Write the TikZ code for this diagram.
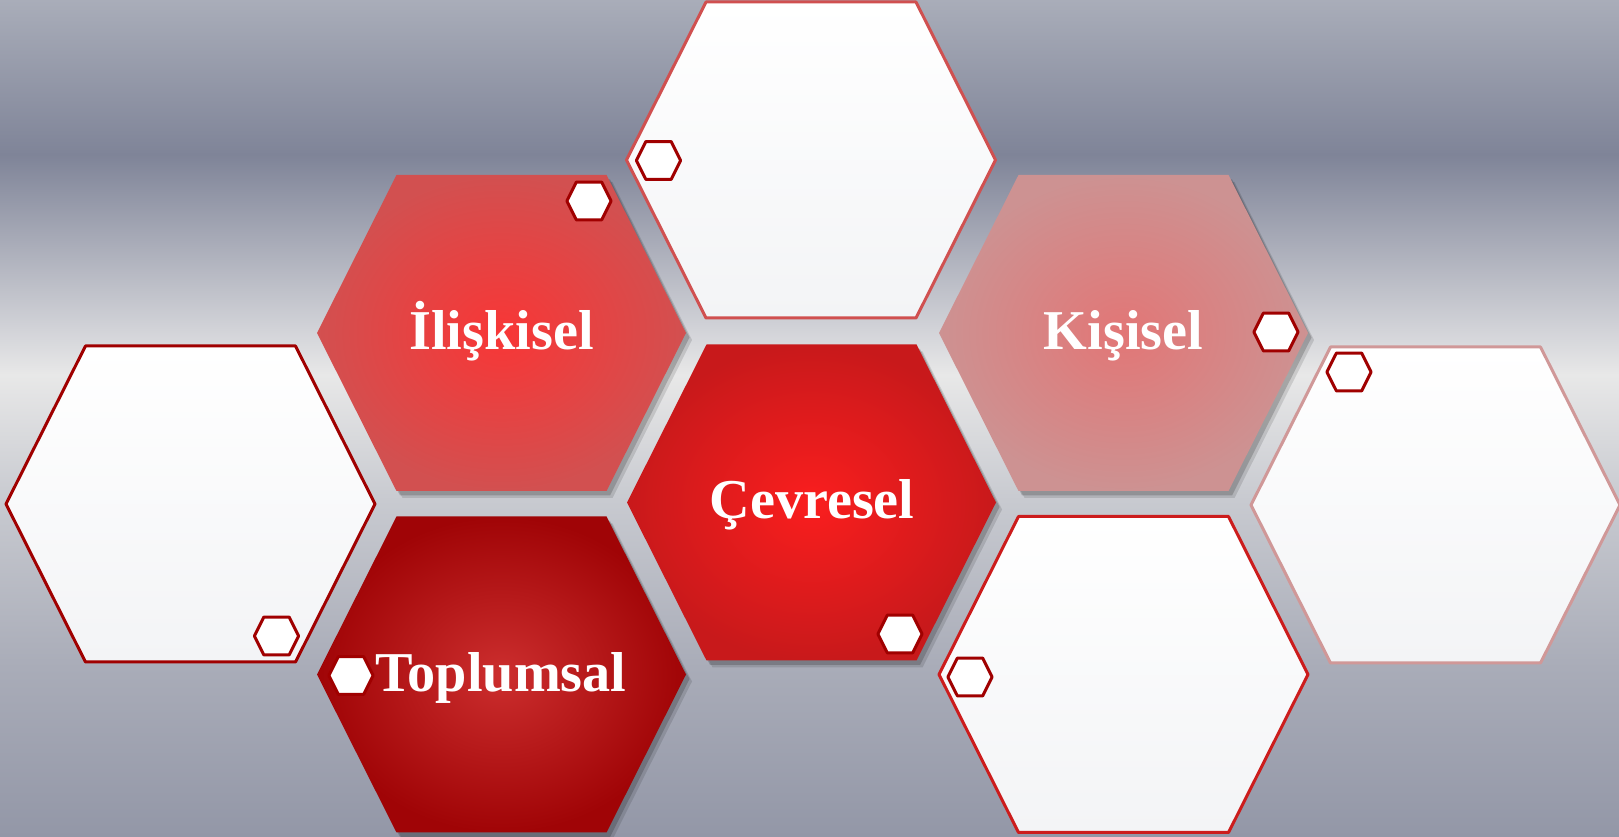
\documentclass[tikz,border=0pt]{standalone}
\usepackage{fontspec}
\setmainfont{Liberation Serif}
\usetikzlibrary{shadows}
\definecolor{bgtop}{HTML}{A9ADB9}
\definecolor{bgdark}{HTML}{7F8498}
\definecolor{bgmid}{HTML}{D2D3D8}
\definecolor{bglight}{HTML}{E8E8E8}
\definecolor{bgpale}{HTML}{C8CAD0}
\definecolor{bglow}{HTML}{A9ACB8}
\definecolor{bgbottom}{HTML}{9397A7}
\definecolor{cellwhite}{HTML}{F3F4F6}
\definecolor{rimdark}{HTML}{A00000}
\definecolor{rimsoft}{HTML}{D05050}
\definecolor{rimpink}{HTML}{D09898}
\definecolor{rimred}{HTML}{CC1C1C}
\pgfdeclareverticalshading{steelbg}{100bp}{color(0bp)=(bgbottom); color(25bp)=(bgbottom);
  color(35.15bp)=(bglow); color(45.15bp)=(bgpale); color(52.6bp)=(bglight); color(55.3bp)=(bgmid);
  color(65.75bp)=(bgdark); color(75bp)=(bgtop); color(100bp)=(bgtop)}
\newcommand{\hexcell}[2]{\path[shift={#2},#1] (-1.05,1.58) -- (1.05,1.58) -- (1.845,0) -- (1.05,-1.58) -- (-1.05,-1.58) -- (-1.845,0) -- cycle;}

\begin{document}
\begin{tikzpicture}[
    cellrim/.style={line width=0.03cm, line join=round},
    whitecell/.style={cellrim, top color=white, bottom color=cellwhite},
    redcell/.style={drop shadow={shadow xshift=0.06cm, shadow yshift=-0.07cm, opacity=.12, fill=black},
      drop shadow={shadow xshift=0.035cm, shadow yshift=-0.045cm, opacity=.18, fill=black}},
    tinycell/.style={fill=white, draw=rimdark, line width=0.03cm, line join=round, scale=0.12},
    cellname/.style={text=white, font=\fontsize{16}{19}\selectfont\bfseries, anchor=base, inner sep=0pt}
  ]
  \useasboundingbox (0,0) rectangle (16.19,8.37);
  \shade[shading=steelbg] (0,0) rectangle (16.19,8.37);
  % white cells
  \hexcell{whitecell, draw=rimsoft}{(8.11,6.77)}
  \hexcell{whitecell, draw=rimdark}{(1.905,3.33)}
  \hexcell{whitecell, draw=rimpink}{(14.355,3.32)}
  \hexcell{whitecell, draw=rimred}{(11.235,1.625)}
  % red cells
  \hexcell{redcell, inner color={rgb,255:red,248;green,54;blue,54}, outer color={rgb,255:red,210;green,80;blue,80}}{(5.015,5.04)}
  \hexcell{redcell, inner color={rgb,255:red,226;green,118;blue,118}, outer color={rgb,255:red,205;green,146;blue,146}}{(11.235,5.04)}
  \hexcell{redcell, inner color={rgb,255:red,250;green,30;blue,30}, outer color={rgb,255:red,200;green,25;blue,27}}{(8.115,3.345)}
  \hexcell{redcell, inner color={rgb,255:red,204;green,46;blue,46}, outer color={rgb,255:red,160;green,4;blue,6}}{(5.015,1.625)}
  % small marks
  \hexcell{tinycell}{(5.89,6.36)}
  \hexcell{tinycell}{(6.585,6.765)}
  \hexcell{tinycell}{(12.76,5.05)}
  \hexcell{tinycell}{(13.49,4.65)}
  \hexcell{tinycell}{(2.765,2.01)}
  \hexcell{tinycell}{(9.00,2.03)}
  \hexcell{tinycell}{(3.51,1.615)}
  \hexcell{tinycell}{(9.70,1.60)}
  \node[cellname] (iliskisel) at (5.015,4.87) {İlişkisel};
  \node[cellname] (kisisel) at (11.235,4.87) {Kişisel};
  \node[cellname] (cevresel) at (8.12,3.18) {Çevresel};
  \node[cellname] (toplumsal) at (5.01,1.45) {Toplumsal};
\end{tikzpicture}
\end{document}
